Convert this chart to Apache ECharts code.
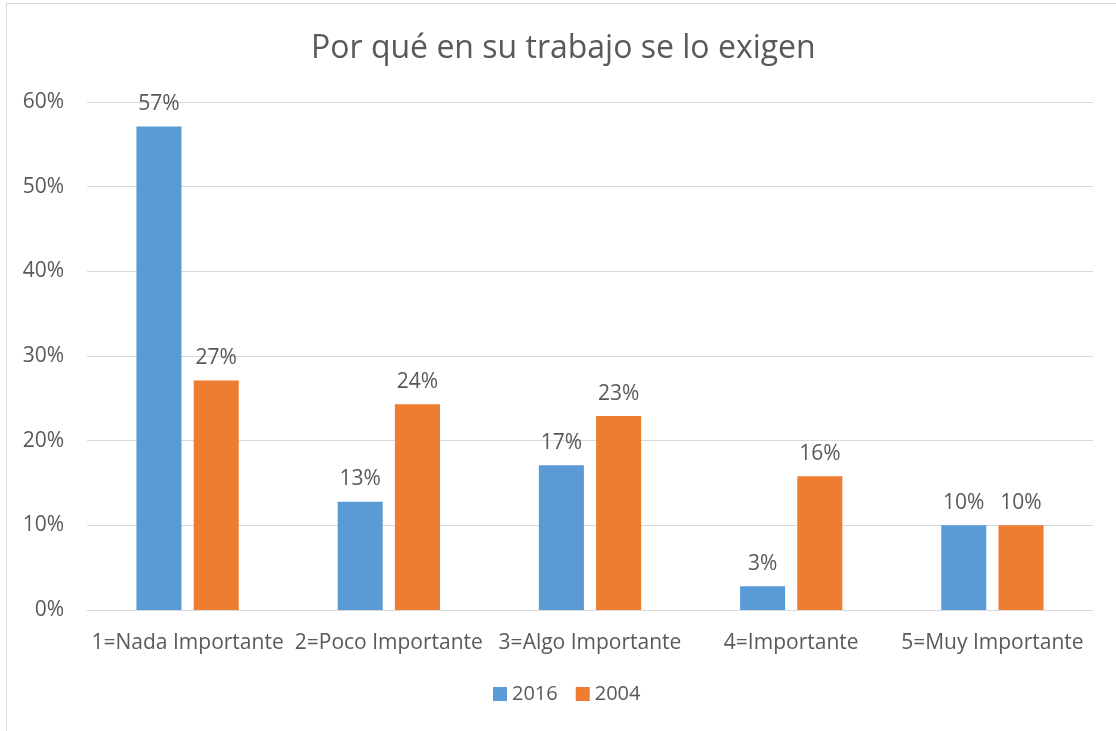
<!DOCTYPE html>
<html>
<head>
<meta charset="utf-8">
<script src="https://cdn.jsdelivr.net/npm/echarts@6/dist/echarts.min.js"></script>
<style>
  html, body { margin: 0; padding: 0; background: #fff; }
  #main { width: 1116px; height: 731px; }
</style>
</head>
<body>
<div id="main"></div>
<script>
var categories = ['1=Nada Importante', '2=Poco Importante', '3=Algo Importante', '4=Importante', '5=Muy Importante'];
var values2016 = [57.1, 12.8, 17.1, 2.8, 10.0];
var values2004 = [27.1, 24.3, 22.9, 15.8, 10.0];
var yTicks = [0, 10, 20, 30, 40, 50, 60];

var textColor = '#595959';
var fontName = 'Open Sans';

var chartDom = document.getElementById('main');
var myChart = echarts.init(chartDom);

var option = {
    backgroundColor: '#fff',
    title: {
        text: 'Por qué en su trabajo se lo exigen',
        left: 306,
        top: 28,
        textStyle: {
            color: textColor,
            fontFamily: fontName,
            fontSize: 32,
            fontWeight: 'normal'
        }
    },
    legend: {
        bottom: 22,
        left: 488,
        itemWidth: 14,
        itemHeight: 14,
        itemGap: 18,
        icon: 'rect',
        textStyle: {
            color: textColor,
            fontFamily: fontName,
            fontSize: 20
        },
        data: ['2016', '2004']
    },
    graphic: [{
        type: 'rect',
        shape: { x: 6.5, y: 3.5, width: 1200, height: 800 },
        style: { fill: 'none', stroke: '#d9d9d9', lineWidth: 1 },
        silent: true
    }],
    grid: {
        left: 87,
        right: 23,
        top: 102,
        bottom: 121
    },
    xAxis: {
        type: 'category',
        data: categories,
        axisTick: { show: false },
        axisLine: { lineStyle: { color: '#d9d9d9', width: 1 } },
        axisLabel: {
            color: textColor,
            fontFamily: fontName,
            fontSize: 21,
            margin: 23,
            interval: 0
        }
    },
    yAxis: {
        type: 'value',
        min: yTicks[0],
        max: yTicks[yTicks.length - 1],
        interval: 10,
        axisLine: { show: false },
        axisTick: { show: false },
        splitLine: { lineStyle: { color: '#d9d9d9', width: 1 } },
        axisLabel: {
            color: textColor,
            fontFamily: fontName,
            fontSize: 21,
            margin: 23,
            formatter: '{value}%'
        }
    },
    series: [{
        name: '2016',
        type: 'bar',
        data: values2016,
        barWidth: '22.4%',
        barGap: '27%',
        itemStyle: { color: '#5b9bd5' },
        label: {
            show: true,
            position: 'top',
            distance: 12,
            color: textColor,
            fontFamily: fontName,
            fontSize: 21,
            formatter: function (p) { return Math.round(p.value) + '%'; }
        }
    }, {
        name: '2004',
        type: 'bar',
        data: values2004,
        barWidth: '22.4%',
        itemStyle: { color: '#ed7d31' },
        label: {
            show: true,
            position: 'top',
            distance: 12,
            color: textColor,
            fontFamily: fontName,
            fontSize: 21,
            formatter: function (p) { return Math.round(p.value) + '%'; }
        }
    }]
};

option && myChart.setOption(option);
</script>
</body>
</html>
